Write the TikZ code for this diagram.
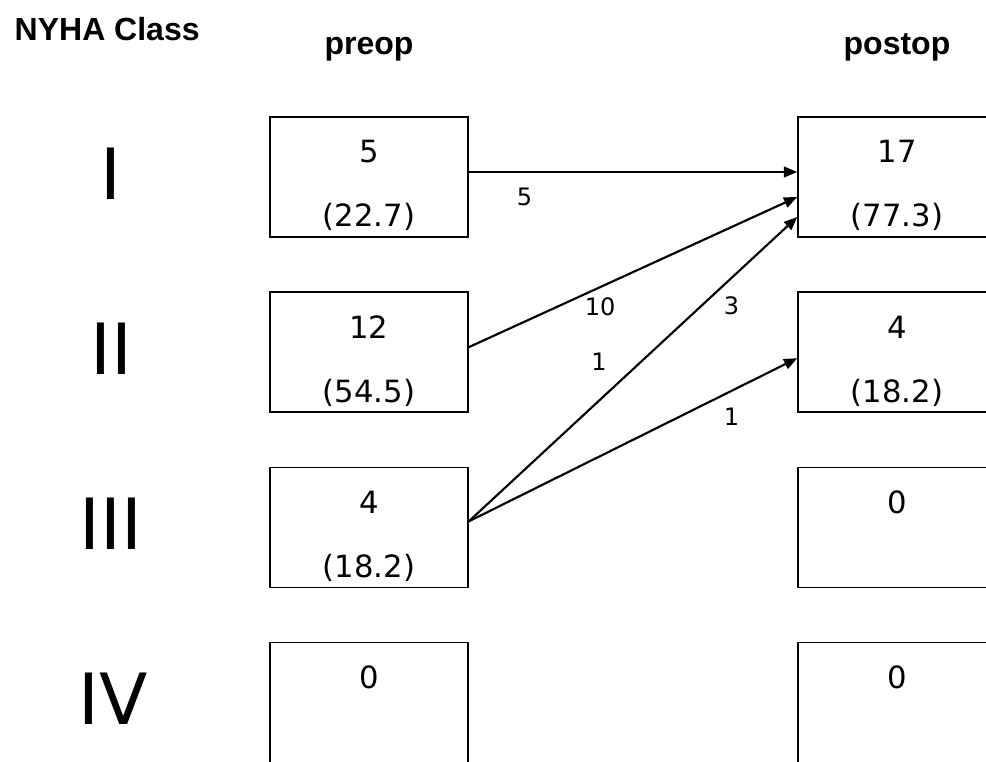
\documentclass[tikz,border=0pt]{standalone}
\usepackage{fontspec}
\setmainfont{DejaVu Sans}
\newfontfamily\headfont{Liberation Sans}
\usetikzlibrary{positioning, arrows.meta, calc}

% two lines of a class box, the first one pushed down a little
\newcommand{\boxtext}[2]{\rule{0pt}{30pt}#1\\#2\rule[-3pt]{0pt}{3pt}}

\begin{document}
\begin{tikzpicture}[
      x=0.75pt, y=-0.75pt,
      node distance=40.3pt and 246.4pt,
      box/.style={
        draw,
        line width=1.1pt,
        minimum width=148.5pt,
        minimum height=90pt,
        inner sep=0pt,
        align=center,
        font=\fontsize{23}{48}\selectfont
      },
      arrow/.style={
        -{Triangle[length=10pt,width=8pt]},
        line width=1.6pt
      },
      head/.style={font=\headfont\bfseries\fontsize{24}{28}\selectfont},
      roman/.style={font=\fontsize{53}{60}\selectfont},
      count/.style={font=\fontsize{18}{21}\selectfont}
    ]

    \useasboundingbox (0,0) rectangle (986,761);
    \clip (0,0) rectangle (986,761);

    % headings
    \node[head, anchor=base west] (nyha) at (10,40) {NYHA Class};
    \node[head, anchor=base] (preop) at (369,54) {preop};
    \node[head, anchor=base] (postop) at (897,54) {postop};

    % preop column
    \node[box] (pI) at (369,177) {\boxtext{5}{(22.7)}};
    \node[box, below=of pI] (pII) {\boxtext{12}{(54.5)}};
    \node[box, below=of pII] (pIII) {\boxtext{4}{(18.2)}};
    \node[box, below=of pIII] (pIV) {\boxtext{0}{\phantom{(}}};

    % postop column
    \node[box, right=of pI] (qI) {\boxtext{17}{(77.3)}};
    \node[box, right=of pII] (qII) {\boxtext{4}{(18.2)}};
    \node[box, right=of pIII] (qIII) {\boxtext{0}{\phantom{(}}};
    \node[box, right=of pIV] (qIV) {\boxtext{0}{\phantom{(}}};

    % class numerals
    \node[roman] (rI) at (111,174) {I};
    \node[roman] (rII) at (111,349) {II};
    \node[roman] (rIII) at (111,524) {III};
    \node[roman] (rIV) at (113,699) {IV};

    % transitions
    \draw[arrow] ([yshift=3.75pt]pI.east) --
      node[count, pos=0.17, yshift=-18.75pt] (nI) {5} ([yshift=3.75pt]qI.west);
    \draw[arrow] ([yshift=3.75pt]pII.east) --
      node[count, pos=0.4, yshift=-15pt] (nII) {10} ([yshift=-15pt]qI.west);
    \draw[arrow] ([yshift=4.5pt]pIII.east) --
      node[count, pos=0.8, yshift=-21pt] (nIIIa) {3} ([yshift=-30pt]qI.west);
    \draw[arrow] ([yshift=4.5pt]pIII.east) --
      node[count, pos=0.8, yshift=-19.5pt] (nIIIb) {1} ([yshift=-4.5pt]qII.west);
    \node[count] (nIIb) at (599,362) {1};

    \end{tikzpicture}
\end{document}
